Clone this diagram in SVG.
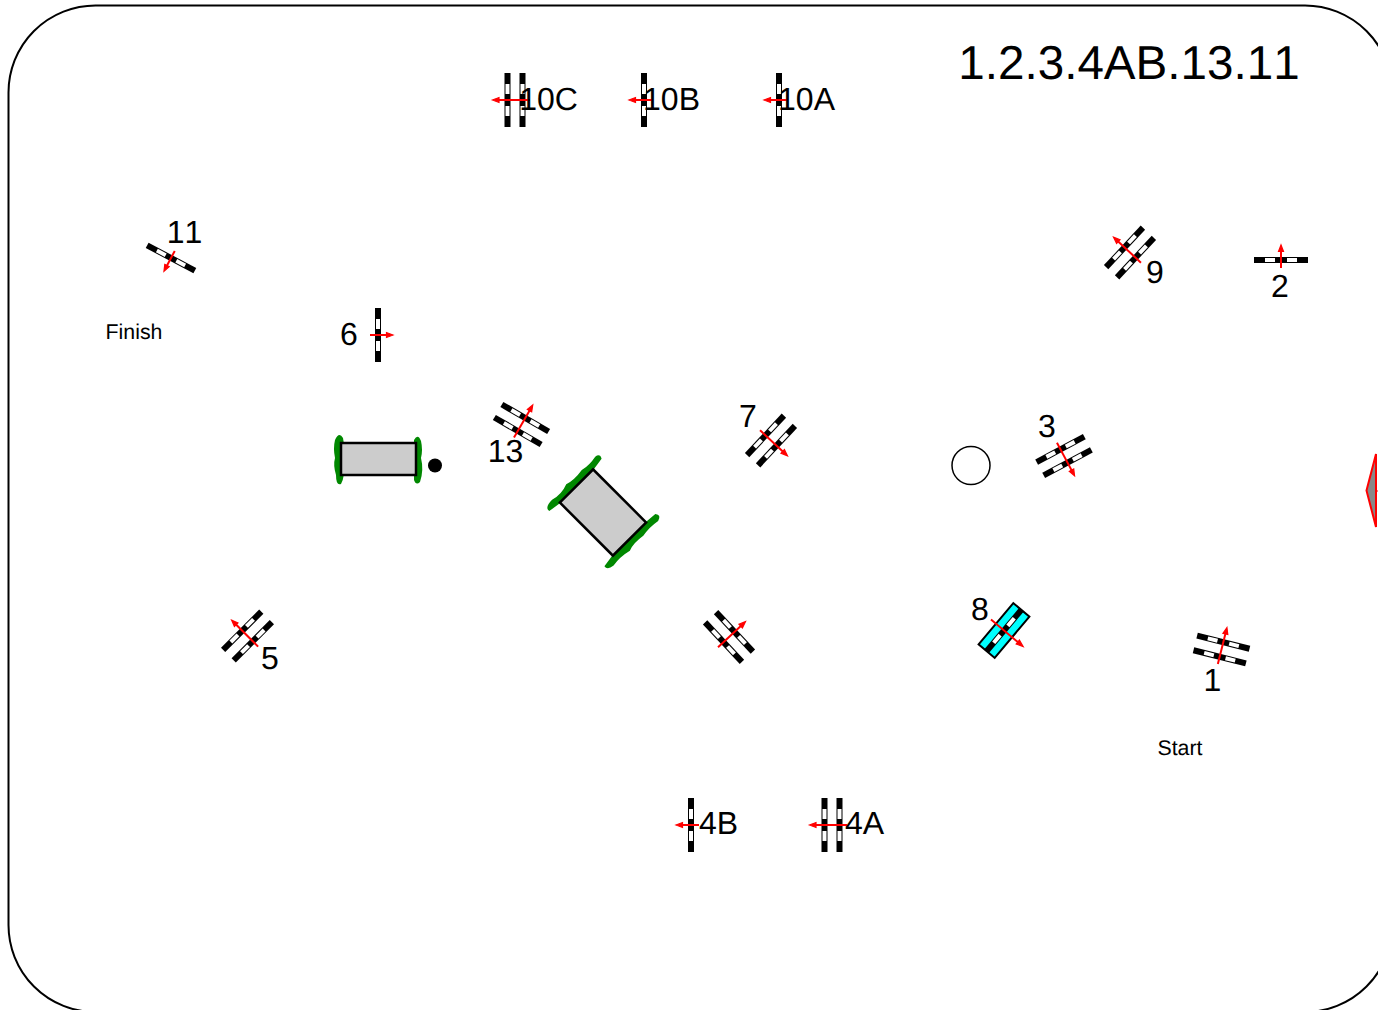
<svg xmlns="http://www.w3.org/2000/svg" xmlns:xlink="http://www.w3.org/1999/xlink" width="1378" height="1010" viewBox="0 0 1378 1010">
<style>
text{font-family:"Liberation Sans",Arial,sans-serif;fill:#000;font-kerning:none;text-rendering:geometricPrecision}
.l{font-size:32px;text-anchor:middle}
.s{font-size:21.3px;text-anchor:middle}
.t{fill:#ccc;stroke:#000;stroke-width:2.5}
.g{fill:#080}
.w{fill:#fff}
.a{stroke:#f00;stroke-width:2;fill:none}
.h{fill:#f00;stroke:#f00;stroke-width:1.2}
</style>
<defs>
<g id="bar"><rect x="-27" y="-3" width="54" height="6" fill="#000"/><rect x="-16" y="-2" width="10" height="4" class="w"/><rect x="6" y="-2" width="10" height="4" class="w"/></g>
<g id="s1"><use xlink:href="#bar"/><path class="a" d="M0 8V-11"/><path class="h" d="M0-15L-2.500-8.500H2.500Z"/></g>
<g id="d1"><use xlink:href="#bar" y="-7.500"/><use xlink:href="#bar" y="7.500"/><path class="a" d="M0 15V-18"/><path class="h" d="M0-22.500L-2.500-16H2.500Z"/></g>
</defs>
<rect id="ring" x="8.500" y="5.500" width="1383.500" height="1006.500" rx="87" ry="87" fill="#fff" stroke="#000" stroke-width="2"/>
<g id="connectors"></g>
<g id="jump10C"><use xlink:href="#d1" transform="translate(515 100) rotate(-90)"/><text class="l" x="548.500" y="110">10C</text></g>
<g id="jump10B"><use xlink:href="#s1" transform="translate(644 100) rotate(-90)"/><text class="l" x="671.500" y="110">10B</text></g>
<g id="jump10A"><use xlink:href="#s1" transform="translate(779 100) rotate(-90)"/><text class="l" x="806.500" y="110">10A</text></g>
<text id="title" x="1129" y="79" font-size="47.600" text-anchor="middle">1.2.3.4AB.13.11</text>
<g id="jump11"><use xlink:href="#s1" transform="translate(171 258) rotate(208)"/><text class="l" x="184.500" y="243">11</text></g>
<text id="finish" class="s" x="134" y="339">Finish</text>
<g id="jump6"><use xlink:href="#s1" transform="translate(378 335) rotate(90)"/><text class="l" x="349" y="345">6</text></g>
<g id="jump13"><use xlink:href="#d1" transform="translate(521.500 424.500) rotate(30)"/><text class="l" x="505.500" y="462">13</text></g>
<g id="jump7"><use xlink:href="#d1" transform="translate(771 440.500) rotate(133)"/><text class="l" x="748" y="427">7</text></g>
<g id="jump3"><use xlink:href="#d1" transform="translate(1064 456) rotate(152)"/><text class="l" x="1047" y="437">3</text></g>
<g id="jump9"><use xlink:href="#d1" transform="translate(1130 252.500) rotate(-47)"/><text class="l" x="1155" y="283">9</text></g>
<g id="jump2"><use xlink:href="#s1" transform="translate(1281 260)"/><text class="l" x="1280" y="297">2</text></g>
<g id="jump5"><use xlink:href="#d1" transform="translate(247.500 636) rotate(-45)"/><text class="l" x="270" y="669">5</text></g>
<g id="jump12"><use xlink:href="#d1" transform="translate(729 637) rotate(47)"/></g>
<g id="water8"><g transform="translate(1004 630.500) rotate(130)"><rect x="-27" y="-10.500" width="54" height="21" fill="#0ff" stroke="#000" stroke-width="2"/><use xlink:href="#bar"/><path class="a" d="M0 17V-20"/><path class="h" d="M0-25L-2.500-18H2.500Z"/></g><text class="l" x="980" y="620">8</text></g>
<g id="jump1"><use xlink:href="#d1" transform="translate(1221.500 649.500) rotate(14)"/><text class="l" x="1212.500" y="691">1</text></g>
<text id="start" class="s" x="1180" y="755">Start</text>
<g id="jump4B"><use xlink:href="#s1" transform="translate(691 825) rotate(-90)"/><text class="l" x="718.500" y="834">4B</text></g>
<g id="jump4A"><use xlink:href="#d1" transform="translate(832 825) rotate(-90)"/><text class="l" x="864.500" y="834">4A</text></g>
<g id="tunnel1"><path class="g" d="M335 440Q339 431 343 438Q345 448 344 460Q345 478 341 484Q336 486 336 475Q333 465 335 458Q333 448 335 440Z"/><path class="g" d="M414 440Q418 433 421 441Q423 450 421 458Q424 470 420 482Q416 486 414 480Z"/><rect class="t" x="341" y="443" width="75" height="32"/></g>
<circle id="dot" cx="435" cy="465.500" r="7" fill="#000"/>
<g id="tunnel2" transform="translate(603 512.500) rotate(45)"><path class="g" d="M-37-24L-39-37Q-44-40-45-34Q-43-24-45-15Q-43-2-46 6Q-42 16-45 27Q-45 38-39 37L-37 24Z"/><path class="g" d="M37-24L38-36Q43-40 45-33Q43-22 45-12Q43 0 46 8Q43 20 45 30Q44 38 39 37L37 24Z"/><rect class="t" x="-37.500" y="-23.500" width="75" height="47" stroke-width="2"/></g>
<circle id="circle" cx="971" cy="465.500" r="19" fill="#fff" stroke="#000" stroke-width="1.500"/>
<g id="gate"><path d="M1376 454L1366.500 490.500L1376 527Z" fill="#888" stroke="#f00" stroke-width="2"/><path d="M1376 491H1378" stroke="#f00"/></g>
</svg>
